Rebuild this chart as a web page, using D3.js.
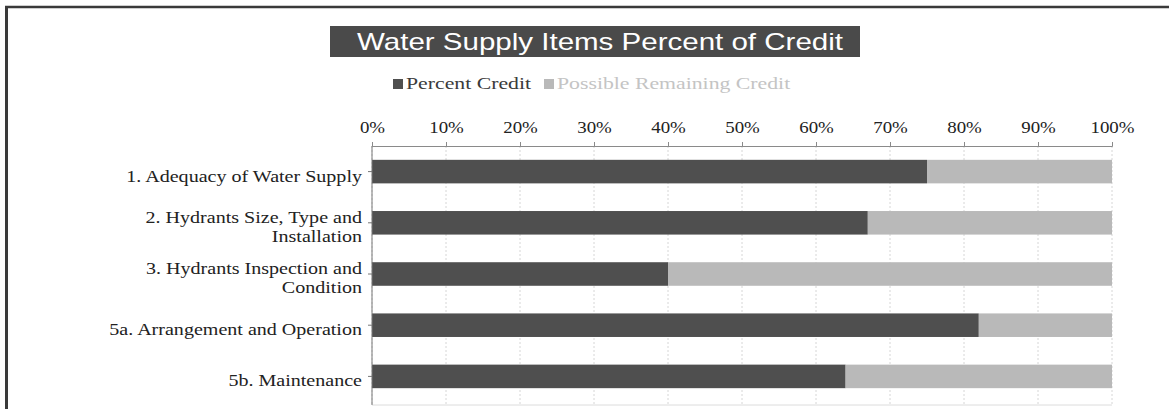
<!DOCTYPE html>
<html><head><meta charset="utf-8">
<script src="https://cdn.jsdelivr.net/npm/d3@7"></script>
<style>html,body{margin:0;padding:0;background:#fff;}svg{display:block;}</style>
</head><body>
<svg id="c" width="1169" height="409"></svg>
<script>
const categories = [
  ["1. Adequacy of Water Supply"],
  ["2. Hydrants Size, Type and", "Installation"],
  ["3. Hydrants Inspection and", "Condition"],
  ["5a. Arrangement and Operation"],
  ["5b. Maintenance"]
];
const percentCredit = [75, 67, 40, 82, 64];
const remainingCredit = percentCredit.map(v => 100 - v);
const tickValues = [0,10,20,30,40,50,60,70,80,90,100];
const seriesNames = ["Percent Credit", "Possible Remaining Credit"];
const title = "Water Supply Items Percent of Credit";

const svg = d3.select("#c");
const darkC = "#4f4f4f", lightC = "#b9b9b9";
const serif = "'Liberation Serif','Times New Roman',serif";
const SX = 1.18;

// frame
svg.append("line").attr("x1",5).attr("x2",1169).attr("y1",7).attr("y2",7).attr("stroke","#3a3a3a").attr("stroke-width",2.5);
svg.append("line").attr("x1",6.5).attr("x2",6.5).attr("y1",6).attr("y2",409).attr("stroke","#3a3a3a").attr("stroke-width",3);

// title
svg.append("rect").attr("x",330).attr("y",26).attr("width",530).attr("height",31).attr("fill","#4a4a4a");
svg.append("text").attr("transform","translate(600,50) scale(1.23,1)").attr("text-anchor","middle")
  .attr("font-family","'Liberation Sans',Arial,sans-serif").attr("font-size",24).attr("fill","#fff").text(title);

// legend
const leg = [{x:393, c:darkC, t:"#3a3a3a"}, {x:544, c:lightC, t:"#c4c4c4"}];
leg.forEach((l,i)=>{
  svg.append("rect").attr("x",l.x).attr("y",79).attr("width",10).attr("height",10).attr("fill",l.c);
  svg.append("text").attr("transform",`translate(${l.x+13},89) scale(1.28,1)`).attr("font-family",serif)
    .attr("font-size",17).attr("fill",l.t).text(seriesNames[i]);
});

const x = d3.scaleLinear().domain([0,100]).range([372,1112]);
const y = d3.scaleBand().domain(d3.range(categories.length)).range([146,402]).paddingInner(0.54).paddingOuter(0.27);

// grid
svg.append("g").selectAll("line").data(tickValues).join("line")
  .attr("x1",d=>x(d)).attr("x2",d=>x(d)).attr("y1",146).attr("y2",405)
  .attr("stroke","#d6d6d6").attr("stroke-dasharray","2,2");
svg.append("line").attr("x1",372).attr("x2",1112).attr("y1",405).attr("y2",405).attr("stroke","#dcdcdc");

// top axis
const xAxis = d3.axisTop(x).tickValues(tickValues).tickFormat(d=>d+"%").tickSize(4).tickPadding(9);
const gx = svg.append("g").attr("transform","translate(0,146)").call(xAxis);
gx.select(".domain").attr("stroke","#8a8a8a");
gx.selectAll(".tick line").attr("stroke","#8a8a8a");
gx.selectAll("text").attr("font-family",serif).attr("font-size",16).attr("fill","#222")
  .attr("transform",`scale(${SX},1)`);

// bars
const bars = svg.append("g");
bars.selectAll("rect.d").data(percentCredit).join("rect").attr("class","d")
  .attr("x",x(0)).attr("y",(d,i)=>y(i)).attr("height",y.bandwidth())
  .attr("width",d=>x(d)-x(0)).attr("fill",darkC);
bars.selectAll("rect.l").data(remainingCredit).join("rect").attr("class","l")
  .attr("x",(d,i)=>x(percentCredit[i])).attr("y",(d,i)=>y(i)).attr("height",y.bandwidth())
  .attr("width",(d,i)=>x(percentCredit[i]+d)-x(percentCredit[i])).attr("fill",lightC);

// left axis
svg.append("line").attr("x1",372).attr("x2",372).attr("y1",146).attr("y2",405).attr("stroke","#777");
const labels = svg.append("g");
categories.forEach((lines,i)=>{
  const cy = y(i)+y.bandwidth()/2;
  svg.append("line").attr("x1",368).attr("x2",372).attr("y1",cy).attr("y2",cy).attr("stroke","#777");
  const t = labels.append("text").attr("text-anchor","end").attr("font-family",serif)
    .attr("font-size",17).attr("fill","#222").attr("transform",`translate(362,0) scale(${SX},1)`);
  const lh = 19;
  const start = cy + 10 - (lines.length-1)*lh/2;
  lines.forEach((s,j)=>t.append("tspan").attr("x",0).attr("y",start+j*lh).text(s));
});
</script>
</body></html>
